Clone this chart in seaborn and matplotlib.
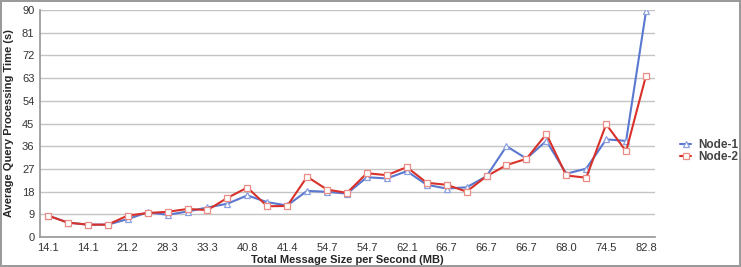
import pandas as pd
import matplotlib.pyplot as plt
import seaborn as sns

# Valores
rotulos_x = ['14.1', '14.1', '21.2', '28.3', '33.3', '40.8', '41.4', '54.7',
             '54.7', '62.1', '66.7', '66.7', '66.7', '68.0', '74.5', '82.8']
node1 = [8.5, 5.7, 4.9, 4.9, 7.1, 9.8, 8.8, 10.1, 11.7, 13.2, 16.5, 13.8, 12.5,
         18.3, 17.9, 17.2, 23.7, 23.2, 26.1, 20.7, 19.2, 19.7, 24.1, 36.0, 31.1,
         38.1, 25.1, 27.1, 38.7, 38.1, 89.5]
node2 = [8.5, 5.7, 4.9, 4.9, 8.5, 9.5, 10.0, 11.1, 10.7, 15.5, 19.6, 12.2, 12.3,
         23.9, 18.8, 17.5, 25.3, 24.5, 27.7, 21.5, 20.7, 18.0, 24.1, 28.5, 31.0,
         40.8, 24.4, 23.5, 44.7, 34.0, 64.0]

df = pd.DataFrame({'pos': list(range(len(node1))), 'Node-1': node1, 'Node-2': node2})

sns.set_theme(style='white')
plt.rcParams['font.family'] = ['Liberation Sans', 'DejaVu Sans']

fig = plt.figure(figsize=(7.41, 2.67), dpi=100)
fig.patch.set_edgecolor('#9a9a9a')
fig.patch.set_linewidth(1.5)
ax = fig.add_axes([40 / 741, 30 / 267, 615 / 741, 227 / 267])

sns.lineplot(data=df, x='pos', y='Node-1', ax=ax, color='#5a78cf', lw=1.5,
             marker='^', ms=5, mfc='white', mec='#8aa0e0', mew=0.9, label='Node-1')
sns.lineplot(data=df, x='pos', y='Node-2', ax=ax, color='#d8312a', lw=1.5,
             marker='s', ms=5, mfc='white', mec='#ec8a84', mew=0.9, label='Node-2')

ax.set_xlim(-0.4, 30.45)
ax.set_ylim(0, 90)
ax.set_yticks(range(0, 91, 9))
ax.set_xticks(range(0, 31, 2))
ax.set_xticklabels(rotulos_x)
ax.yaxis.grid(True, color='#c4c4c4', lw=1)
ax.set_axisbelow(True)
for s in ['top', 'right']:
    ax.spines[s].set_visible(False)
ax.spines['left'].set_color('#9a9a9a')
ax.spines['bottom'].set_color('#9a9a9a')
ax.tick_params(axis='both', length=0, labelsize=8, colors='#333333', pad=4)
ax.set_xlabel('Total Message Size per Second (MB)', fontsize=8, fontweight='bold', labelpad=2)
ax.set_ylabel('Average Query Processing Time (s)', fontsize=8, fontweight='bold', labelpad=6)

ax.legend(loc='center left', bbox_to_anchor=(1.04, 0.38), frameon=False,
          prop={'weight': 'bold', 'size': 8.5}, handlelength=1.0, borderpad=0,
          borderaxespad=0, handletextpad=0.6, labelspacing=0.0, labelcolor='#444444')

fig.savefig('out.png', dpi=100)
